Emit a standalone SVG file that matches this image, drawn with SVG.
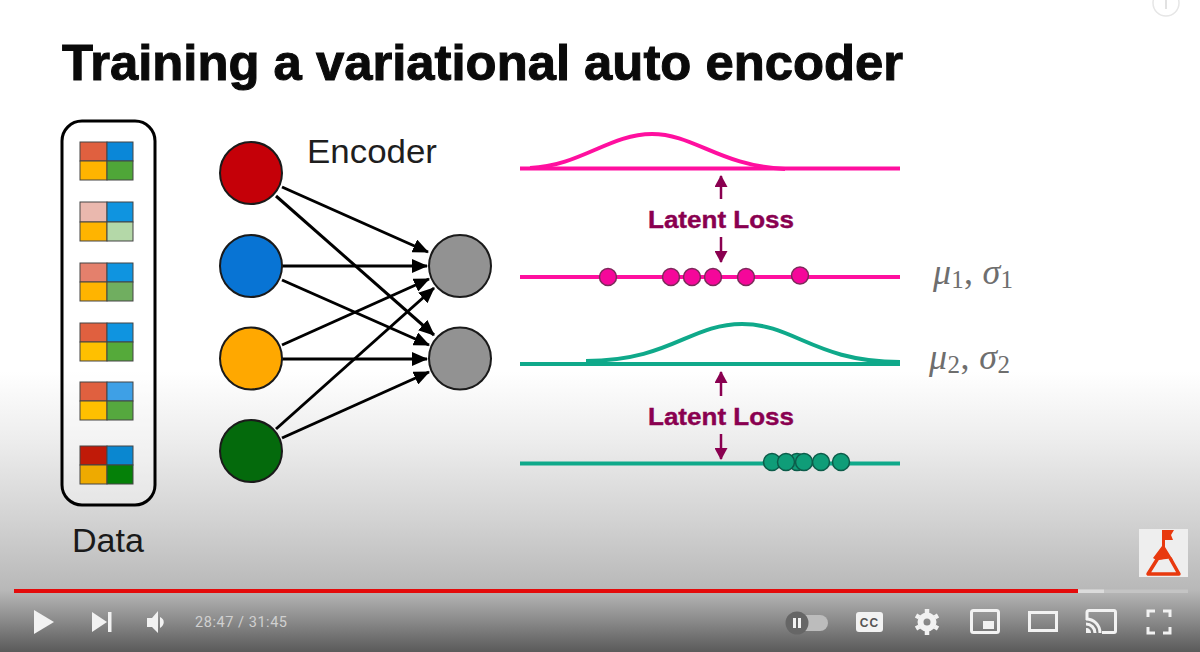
<svg xmlns="http://www.w3.org/2000/svg" width="1200" height="652" viewBox="0 0 1200 652">
<style>
.sans{font-family:"Liberation Sans",Arial,sans-serif}
.node{stroke:#1a1a1a;stroke-width:2}
.wire{stroke:#000;stroke-width:3;fill:none;marker-end:url(#ah)}
.mag{stroke:#ff0f9f;stroke-width:4;fill:none}
.teal{stroke:#0fa98a;stroke-width:4;fill:none}
.mdot{fill:#f5079a;stroke:#7c2a5a;stroke-width:1.5}
.tdot{fill:#0f9d78;stroke:#0d5c4a;stroke-width:1.5}
.ll{stroke:#8a0050;stroke-width:2.5;fill:none;marker-end:url(#lh)}
.lt{font-size:24px;font-weight:700;fill:#8a0050;stroke:#8a0050;stroke-width:.4}
.sw{stroke:#444;stroke-width:1}
.math{font-family:"Liberation Serif","Times New Roman",serif;font-size:36px;fill:#6e6e6e}
.ctl{fill:#f2f2f2}
.cto{fill:none;stroke:#f2f2f2;stroke-width:3}
</style>
<defs>
<linearGradient id="bg" x1="0" y1="0" x2="0" y2="1">
<stop offset="0" stop-color="#fff"/>
<stop offset="0.57" stop-color="#fff"/>
<stop offset="0.68" stop-color="#ececec"/>
<stop offset="0.80" stop-color="#d2d2d2"/>
<stop offset="0.905" stop-color="#b8b8b8"/>
<stop offset="0.95" stop-color="#8c8c8c"/>
<stop offset="1" stop-color="#5a5a5a"/>
</linearGradient>
<marker id="ah" markerUnits="userSpaceOnUse" markerWidth="16" markerHeight="14" refX="15" refY="7" orient="auto"><path d="M0 0L16 7L0 14Z" fill="#000"/></marker>
<marker id="lh" markerUnits="userSpaceOnUse" markerWidth="12" markerHeight="13" refX="11" refY="6.500" orient="auto"><path d="M0 0L12 6.500L0 13Z" fill="#8a0050"/></marker>
</defs>
<rect width="1200" height="652" fill="url(#bg)"/>
<circle cx="1166" cy="3" r="13" fill="none" stroke="#e6e6e6" stroke-width="1.5"/>
<rect x="1165" y="0" width="2" height="9" fill="#e2e2e2"/>
<text class="sans" x="62" y="80" font-size="50" font-weight="700" fill="#0a0a0a" stroke="#0a0a0a" stroke-width="1" textLength="841" lengthAdjust="spacingAndGlyphs">Training a variational auto encoder</text>

<g id="data">
<rect x="62" y="121" width="93" height="384" rx="20" fill="#fff" fill-opacity="0.35" stroke="#000" stroke-width="3"/>
<g id="swatch1"><rect class="sw" x="80" y="142" width="27" height="19" fill="#e0603f"/><rect class="sw" x="107" y="142" width="26" height="19" fill="#0a87d8"/><rect class="sw" x="80" y="161" width="27" height="19" fill="#ffb400"/><rect class="sw" x="107" y="161" width="26" height="19" fill="#4fa638"/></g>
<g id="swatch2"><rect class="sw" x="80" y="202" width="27" height="20" fill="#eab8ae"/><rect class="sw" x="107" y="202" width="26" height="20" fill="#0f94e0"/><rect class="sw" x="80" y="222" width="27" height="19" fill="#ffb400"/><rect class="sw" x="107" y="222" width="26" height="19" fill="#b4d8a8"/></g>
<g id="swatch3"><rect class="sw" x="80" y="263" width="27" height="19" fill="#e4806c"/><rect class="sw" x="107" y="263" width="26" height="19" fill="#0f94e0"/><rect class="sw" x="80" y="282" width="27" height="19" fill="#ffb400"/><rect class="sw" x="107" y="282" width="26" height="19" fill="#70ae60"/></g>
<g id="swatch4"><rect class="sw" x="80" y="323" width="27" height="19" fill="#e0603f"/><rect class="sw" x="107" y="323" width="26" height="19" fill="#0f94e0"/><rect class="sw" x="80" y="342" width="27" height="19" fill="#ffc000"/><rect class="sw" x="107" y="342" width="26" height="19" fill="#55aa3a"/></g>
<g id="swatch5"><rect class="sw" x="80" y="382" width="27" height="19" fill="#e0603f"/><rect class="sw" x="107" y="382" width="26" height="19" fill="#3ea0e6"/><rect class="sw" x="80" y="401" width="27" height="19" fill="#ffc000"/><rect class="sw" x="107" y="401" width="26" height="19" fill="#55a83e"/></g>
<g id="swatch6"><rect class="sw" x="80" y="446" width="27" height="19" fill="#c01a08"/><rect class="sw" x="107" y="446" width="26" height="19" fill="#0a87d0"/><rect class="sw" x="80" y="465" width="27" height="19" fill="#eeaa00"/><rect class="sw" x="107" y="465" width="26" height="19" fill="#058008"/></g>
<text class="sans" x="72" y="552" font-size="33" fill="#1a1a1a" textLength="72" lengthAdjust="spacingAndGlyphs">Data</text>
</g>

<g id="connectors">
<line class="wire" x1="282" y1="187" x2="428" y2="252"/>
<line class="wire" x1="276" y1="196" x2="434" y2="335"/>
<line class="wire" x1="282" y1="266" x2="427" y2="266"/>
<line class="wire" x1="282" y1="280" x2="429" y2="345"/>
<line class="wire" x1="282" y1="345" x2="429" y2="279"/>
<line class="wire" x1="282" y1="359" x2="427" y2="359"/>
<line class="wire" x1="276" y1="429" x2="434" y2="288"/>
<line class="wire" x1="282" y1="438" x2="429" y2="372"/>
</g>
<g id="in1"><circle class="node" cx="251" cy="173" r="31" fill="#c50008"/></g>
<g id="in2"><circle class="node" cx="251" cy="266" r="31" fill="#0874d4"/></g>
<g id="in3"><circle class="node" cx="251" cy="358.500" r="31" fill="#ffa800"/></g>
<g id="in4"><circle class="node" cx="251" cy="451" r="31" fill="#046a0c"/></g>
<g id="out1"><circle class="node" cx="460" cy="266" r="31" fill="#929292"/></g>
<g id="out2"><circle class="node" cx="460" cy="358.500" r="31" fill="#929292"/></g>
<text class="sans" x="307" y="163" font-size="33" fill="#1e1e1e" textLength="130" lengthAdjust="spacingAndGlyphs">Encoder</text>

<g id="dist1">
<line class="mag" x1="520" y1="168.500" x2="900" y2="168.500"/>
<path class="mag" d="M530 168C580 166 610 134 652 134C694 134 720 166 785 169"/>
<line class="ll" x1="721" y1="199" x2="721" y2="176"/>
<text class="lt sans" x="648" y="228" textLength="146" lengthAdjust="spacingAndGlyphs">Latent Loss</text>
<line class="ll" x1="721" y1="237" x2="721" y2="262"/>
<line class="mag" x1="520" y1="277" x2="900" y2="277"/>
<circle class="mdot" cx="608" cy="277" r="8.500"/><circle class="mdot" cx="671" cy="277" r="8.500"/><circle class="mdot" cx="692" cy="277" r="8.500"/><circle class="mdot" cx="713" cy="277" r="8.500"/><circle class="mdot" cx="746" cy="277" r="8.500"/><circle class="mdot" cx="800" cy="275.500" r="8.500"/>
<text class="math" x="933" y="284" textLength="80"><tspan font-style="italic">μ</tspan><tspan font-size="25" dy="4">1</tspan><tspan dy="-4">, </tspan><tspan font-style="italic">σ</tspan><tspan font-size="25" dy="4">1</tspan></text>
</g>
<g id="dist2">
<line class="teal" x1="520" y1="364" x2="900" y2="364"/>
<path class="teal" d="M586 361C670 361 690 324 742 324C794 324 815 362 900 362"/>
<line class="ll" x1="721" y1="396" x2="721" y2="372"/>
<text class="lt sans" x="648" y="425" textLength="146" lengthAdjust="spacingAndGlyphs">Latent Loss</text>
<line class="ll" x1="721" y1="434" x2="721" y2="459"/>
<line class="teal" x1="520" y1="463.500" x2="900" y2="463.500"/>
<circle class="tdot" cx="772" cy="462" r="8.500"/><circle class="tdot" cx="797" cy="462" r="8.500"/><circle class="tdot" cx="786" cy="462" r="8.500"/><circle class="tdot" cx="804" cy="462" r="8.500"/><circle class="tdot" cx="821" cy="462" r="8.500"/><circle class="tdot" cx="841" cy="462" r="8.500"/>
<text class="math" x="929" y="369" textLength="81"><tspan font-style="italic">μ</tspan><tspan font-size="25" dy="4">2</tspan><tspan dy="-4">, </tspan><tspan font-style="italic">σ</tspan><tspan font-size="25" dy="4">2</tspan></text>
</g>

<g id="logo">
<rect x="1139" y="529" width="49" height="48" fill="#eeeeee"/>
<path d="M1163 550L1148 574H1179L1170 558" fill="none" stroke="#e8390e" stroke-width="3.500" stroke-linejoin="round"/>
<path d="M1162 530H1174L1171 535L1173 540H1165V547L1173 560C1167 556 1160 563 1153 558L1162 546Z" fill="#e8390e"/>
</g>

<g id="player">
<rect x="14" y="589.500" width="1174" height="3.500" fill="#c4c4c4"/>
<rect x="1078" y="589.500" width="26" height="3.500" fill="#dcdcdc"/>
<rect x="14" y="589" width="1064" height="4" fill="#e40b0b"/>
<path class="ctl" d="M34 610L54 622L34 634Z"/>
<path class="ctl" d="M92 612L107 622L92 632Z"/><rect class="ctl" x="108" y="612" width="3.500" height="20"/>
<path class="ctl" d="M147 618H152L158 611V633L152 627H147Z"/><path class="ctl" d="M160 617C165 619 165 625 160 628Z"/>
<text x="195" y="627" font-family="Roboto,'Liberation Sans',sans-serif" font-size="14.500" fill="#d0d0d0" textLength="92">28:47 / 31:45</text>
<rect x="797" y="615" width="31" height="16" rx="8" fill="#bcbcbc"/>
<circle cx="797" cy="623" r="11.500" fill="#666"/>
<rect class="ctl" x="793" y="618" width="3" height="10"/><rect class="ctl" x="798" y="618" width="3" height="10"/>
<rect class="ctl" x="856" y="612" width="27" height="20" rx="3"/>
<text class="sans" x="869.500" y="627" font-size="12" font-weight="700" fill="#555" text-anchor="middle" letter-spacing="1">CC</text>
<circle cx="927" cy="622" r="6.500" fill="none" stroke="#f2f2f2" stroke-width="6"/>
<path d="M927 622V609M927 622V635M927 622L938 615.500M927 622L938 628.500M927 622L916 615.500M927 622L916 628.500" stroke="#f2f2f2" stroke-width="4.500" fill="none" stroke-dasharray="0 9 4"/>
<rect class="cto" x="971.500" y="610.500" width="27" height="22" rx="2"/>
<rect class="ctl" x="983" y="621" width="11" height="8"/>
<rect class="cto" x="1029.500" y="612.500" width="27" height="18"/>
<path class="cto" d="M1087 620V612.500C1087 611 1088 610.500 1089 610.500H1114C1115 610.500 1115.500 611 1115.500 612.500V631C1115.500 632 1115 632.500 1114 632.500H1102"/>
<path class="cto" d="M1086 619C1094 619 1100 625 1100 633M1086 624C1091 624 1095 628 1095 633" stroke-width="2.500"/>
<path class="ctl" d="M1086 628C1089 628 1091 630 1091 633H1086Z"/>
<path class="cto" d="M1148 617V611H1155M1163 611H1170V617M1170 627V633H1163M1155 633H1148V627"/>
</g>
</svg>
